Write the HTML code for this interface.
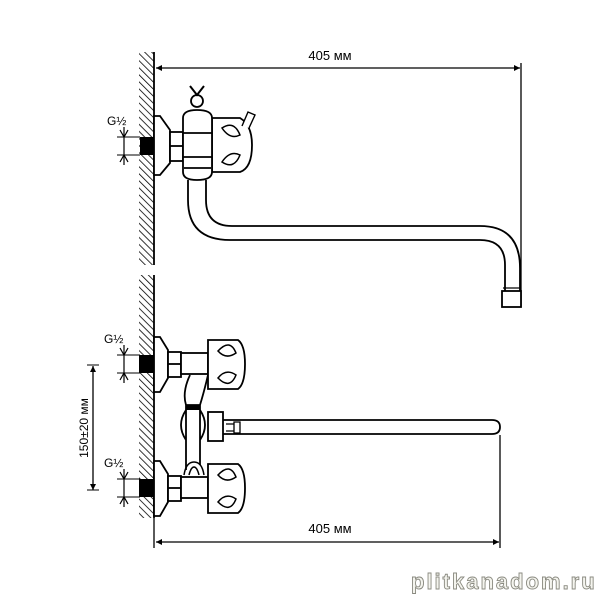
<!DOCTYPE html>
<html><head><meta charset="utf-8"><style>
html,body{margin:0;padding:0;background:#fff;}
svg{display:block;}
text{font-family:"Liberation Sans",sans-serif;}
</style></head><body>
<svg width="600" height="600" viewBox="0 0 600 600" xmlns="http://www.w3.org/2000/svg">
<defs>
<pattern id="h" width="5" height="5" patternUnits="userSpaceOnUse" patternTransform="rotate(-45)">
<line x1="0" y1="0" x2="0" y2="5" stroke="#000" stroke-width="1.6"/>
</pattern>
<marker id="a" viewBox="0 0 10 10" refX="10" refY="5" markerWidth="9" markerHeight="6" orient="auto-start-reverse" markerUnits="userSpaceOnUse">
<path d="M0,0 L10,5 L0,10 z" fill="#000"/></marker>
</defs>
<g fill="none" stroke="#000" stroke-width="1.8">
<rect x="139" y="52" width="15" height="213" fill="url(#h)" stroke="none"/>
<line x1="154" y1="52" x2="154" y2="265"/>
<rect x="139" y="275" width="15" height="243" fill="url(#h)" stroke="none"/>
<line x1="154" y1="275" x2="154" y2="518"/>

<line x1="156" y1="68" x2="520" y2="68" stroke-width="1.3" marker-start="url(#a)" marker-end="url(#a)"/>
<line x1="521" y1="63" x2="521" y2="307" stroke-width="1.3"/>
<rect x="140" y="137" width="14" height="18" fill="#000" stroke="none"/>
<line x1="117" y1="137" x2="140" y2="137" stroke-width="1"/>
<line x1="117" y1="155" x2="140" y2="155" stroke-width="1"/>
<line x1="124" y1="127" x2="124" y2="165" stroke-width="1.2"/>
<path d="M120,130 L124,137 L128,130 M120,162 L124,155 L128,162" stroke-width="1.2"/>
<path d="M154,116 H160 L170,130 V163 L160,175 H154 Z" fill="#fff"/>
<rect x="170" y="132" width="13" height="29" fill="#fff"/>
<line x1="170" y1="146" x2="183" y2="146"/>
<path d="M188,180 V200 Q188,240 230,240 H480 Q505,240 505,265 V292 M206,180 V200 Q206,226 232,226 H480 Q520,226 520,268 V292" fill="none"/>
<rect x="502" y="291" width="19" height="16" fill="#fff"/>
<line x1="503" y1="288" x2="520" y2="288" stroke-width="1.2"/>
<path d="M212,118 H240 Q252,125 252,145 Q252,168 240,172 H212 Z" fill="#fff"/>
<path d="M222,128 Q234,120 240,135 Q230,140 222,128 Z M222,162 Q234,170 240,155 Q230,150 222,162 Z" stroke-width="1.5"/>
<path d="M242,126 L248,112 L255,115 L249,128" fill="#fff" stroke-width="1.4"/>
<path d="M183,118 Q183,110 197,110 Q212,110 212,118 V172 Q212,180 197,180 Q183,180 183,172 Z" fill="#fff"/>
<line x1="183" y1="133" x2="212" y2="133"/><line x1="183" y1="157" x2="212" y2="157"/><line x1="184" y1="168" x2="211" y2="168"/>
<circle cx="197" cy="101" r="6" fill="#fff"/>
<path d="M190,86 L197,95 L204,86" stroke-width="2"/>

<line x1="156" y1="542" x2="499" y2="542" stroke-width="1.3" marker-start="url(#a)" marker-end="url(#a)"/>
<line x1="500" y1="435" x2="500" y2="548" stroke-width="1.3"/>
<line x1="154" y1="518" x2="154" y2="548" stroke-width="1.3"/>
<line x1="93" y1="366" x2="93" y2="490" stroke-width="1.3" marker-start="url(#a)" marker-end="url(#a)"/>
<line x1="87" y1="365" x2="99" y2="365" stroke-width="1"/><line x1="87" y1="490" x2="99" y2="490" stroke-width="1"/>
<path d="M222,420 H492 Q500,420 500,427 Q500,434 492,434 H222" fill="#fff"/>
<path d="M226,424 H234 V431 H226 M234,422 H240 V433 H234 Z" fill="#fff" stroke-width="1.3"/>
<rect x="208" y="412" width="15" height="29" fill="#fff"/>
<path d="M190,375 Q182,392 186,405 H200 Q204,392 208,375 M186,410 Q176,425 186,440 M200,410 Q210,425 200,440 M186,405 V470 M200,405 V465" fill="#fff"/>
<rect x="186" y="405" width="14" height="5" fill="#000" stroke="none"/>
<path d="M184,475 Q186,462 194,462 Q202,462 204,475 M189,475 Q191,467 194,467 Q197,467 199,475" stroke-width="1.5"/>
<g id="u">
<rect x="139" y="355" width="15" height="18" fill="#000" stroke="none"/>
<line x1="117" y1="355" x2="140" y2="355" stroke-width="1"/>
<line x1="117" y1="373" x2="140" y2="373" stroke-width="1"/>
<line x1="124" y1="345" x2="124" y2="383" stroke-width="1.2"/>
<path d="M120,348 L124,355 L128,348 M120,380 L124,373 L128,380" stroke-width="1.2"/>
<path d="M154,337 H160 L168,350 V378 L160,392 H154 Z" fill="#fff"/>
<rect x="168" y="352" width="13" height="25" fill="#fff"/>
<line x1="168" y1="364" x2="181" y2="364"/>
<rect x="181" y="353" width="27" height="21" fill="#fff"/>
<path d="M208,340 H238 Q245,345 245,364 Q245,384 238,389 H208 Z" fill="#fff"/>
<path d="M218,351 Q230,338 236,353 Q226,360 218,351 Z M218,378 Q230,390 236,375 Q226,368 218,378 Z" stroke-width="1.5"/>
</g>
<use href="#u" transform="translate(0,124)"/>
</g>
<g style="fill:#000">
<text x="330" y="60" font-size="13" text-anchor="middle">405 мм</text>
<text x="330" y="533" font-size="13" text-anchor="middle">405 мм</text>
<text x="107" y="125" font-size="12">G½</text>
<text x="104" y="343" font-size="12">G½</text>
<text x="104" y="467" font-size="12">G½</text>
<text transform="translate(88,428) rotate(-90)" font-size="12" text-anchor="middle">150±20 мм</text>
</g>
<text x="411" y="589" font-size="22" font-weight="bold" style="fill:#f4f4ee;stroke:#8a8a80;stroke-width:0.9;letter-spacing:2px">plitkanadom.ru</text>
</svg>
</body></html>
